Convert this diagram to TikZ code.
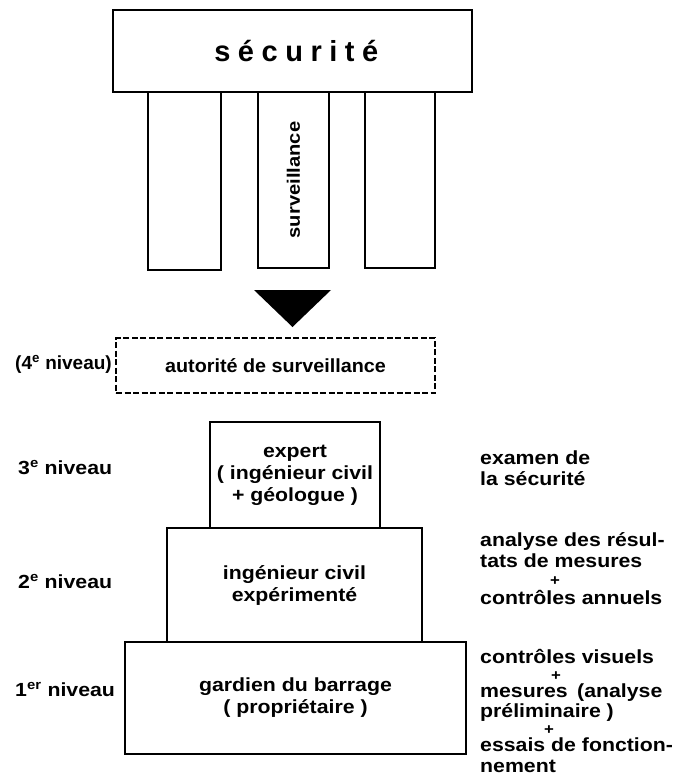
\documentclass[tikz,border=0pt]{standalone}
\usepackage{fontspec}
\setmainfont{Liberation Sans}[BoldFont={* Bold}, BoldFeatures={FakeStretch=1.12}]
\newfontfamily\plainbold{Liberation Sans Bold}
\newfontfamily\midbold{Liberation Sans Bold}[FakeStretch=1.04]
\newfontfamily\spacedfont{Liberation Sans Bold}[LetterSpace=26]
\begin{document}
\begin{tikzpicture}[x=1pt,y=-1pt,
  every node/.style={font=\fontsize{19pt}{22pt}\selectfont\bfseries, inner sep=0pt},
  frame/.style={draw, line width=1.3pt, fill=white},
  dashframe/.style={draw, line width=1.3pt, dash pattern=on 6pt off 2.5pt},
  task/.style={anchor=base west},
  plus/.style={anchor=center, font=\fontsize{15pt}{15pt}\selectfont\bfseries}]
\useasboundingbox (0,0) rectangle (675,782);

% pillars under the roof
\node[frame, minimum width=73pt, minimum height=178pt] (pilA) at (184.5,181) {};
\node[frame, minimum width=71pt, minimum height=176pt] (pilB) at (293.5,180)
  {\rotatebox{90}{\fontsize{18pt}{20pt}\selectfont surveillance}};
\node[frame, minimum width=70pt, minimum height=176pt] (pilC) at (400,180) {};
% roof
\node[frame, minimum width=359pt, minimum height=82pt] (secu) at (292.5,51)
  {\fontsize{29pt}{33pt}\spacedfont s\'ecurit\'e\kern-0.26em};

% downward wedge
\fill (254,290) -- (331,290) -- (292.5,327) -- cycle;

% fourth level
\node[dashframe, minimum width=319pt, minimum height=55pt] (auto) at (275.5,365.5)
  {\midbold autorit\'e de surveillance};
\node[anchor=base east] (n4) at (112,369) {\plainbold(4\textsuperscript{e} niveau)};

% the three stacked levels
\node[frame, minimum width=170pt, minimum height=106pt, align=center] (expert) at (295,475)
  {expert\\( ing\'enieur civil\\+ g\'eologue )};
\node[frame, minimum width=255pt, minimum height=114pt, align=center] (ing) at (294.5,585)
  {ing\'enieur civil\\exp\'eriment\'e};
\node[frame, minimum width=341pt, minimum height=112pt, align=center] (gard) at (295.5,698)
  {gardien du barrage\\( propri\'etaire )};

% level labels
\node[anchor=base west] (n3) at (18,474) {3\textsuperscript{e} niveau};
\node[anchor=base west] (n2) at (18,588) {2\textsuperscript{e} niveau};
\node[anchor=base west] (n1) at (15,696) {1\textsuperscript{er} niveau};

% tasks of each level
\node[task] (t3a) at (480,464) {examen de};
\node[task] (t3b) at (480,485) {la s\'ecurit\'e};

\node[task] (t2a) at (480,546) {analyse des r\'esul-};
\node[task] (t2b) at (480,567) {tats de mesures};
\node[plus] (t2p) at (555,581) {+};
\node[task] (t2c) at (480,604) {contr\^oles annuels};

\node[task] (t1a) at (480,663) {contr\^oles visuels};
\node[plus] (t1p) at (556,676) {+};
\node[task] (t1b) at (480,697) {mesures\hspace{0.5em}(analyse};
\node[task] (t1c) at (480,717) {pr\'eliminaire )};
\node[plus] (t1q) at (549,730) {+};
\node[task] (t1d) at (480,751) {essais de fonction-};
\node[task] (t1e) at (480,772) {nement};
\end{tikzpicture}
\end{document}
